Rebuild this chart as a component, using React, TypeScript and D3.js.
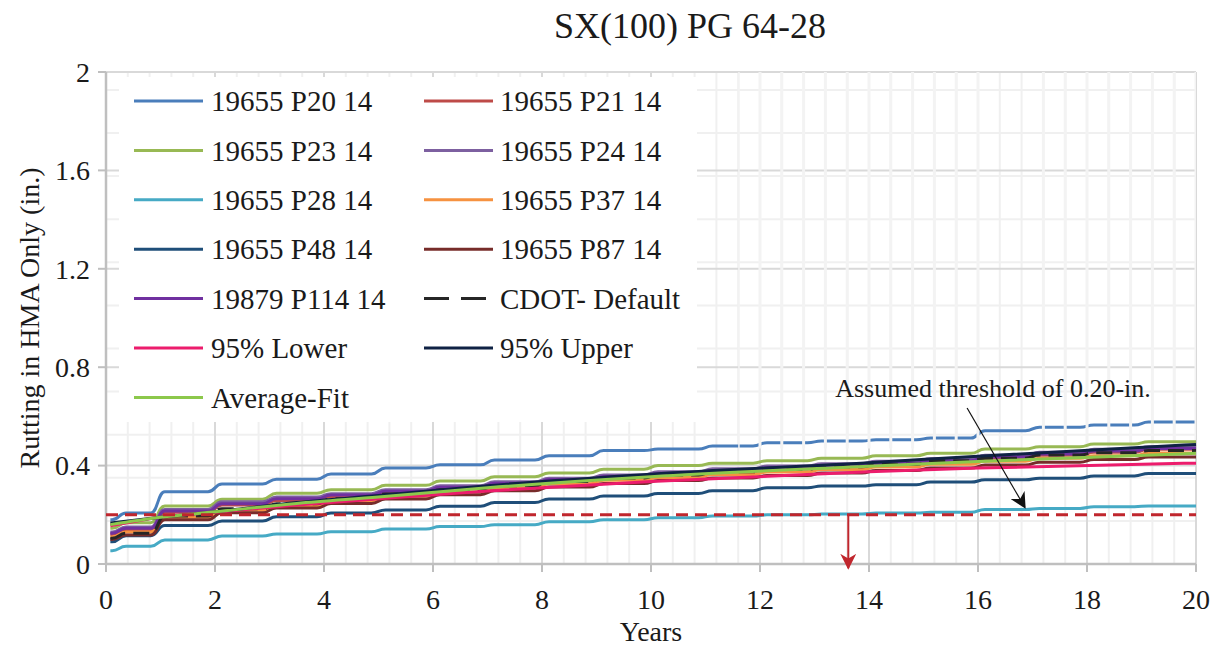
import React from 'react';
import * as d3 from 'd3';

// x positions of plateau points for the stepped (measured) series: start point + middle of each year
const stepYears = [0.08, 0.4, 1.5, 2.5, 3.5, 4.5, 5.5, 6.5, 7.5, 8.5, 9.5, 10.5, 11.5, 12.5, 13.5, 14.5, 15.5, 16.5, 17.5, 18.5, 19.5];
// x positions for the fitted (smooth) series
const fitYears = [0.08, 1, 2, 3.5, 5, 7, 10, 14, 16, 20];

const p20 = [0.18, 0.207, 0.294, 0.325, 0.345, 0.366, 0.39, 0.403, 0.423, 0.44, 0.461, 0.467, 0.48, 0.493, 0.5, 0.505, 0.512, 0.542, 0.556, 0.565, 0.577];
const p21 = [0.12, 0.14, 0.21, 0.24, 0.258, 0.273, 0.29, 0.306, 0.322, 0.337, 0.35, 0.362, 0.374, 0.385, 0.394, 0.404, 0.414, 0.43, 0.442, 0.454, 0.466];
const p23 = [0.145, 0.168, 0.236, 0.263, 0.288, 0.302, 0.32, 0.337, 0.355, 0.37, 0.385, 0.4, 0.41, 0.42, 0.43, 0.44, 0.45, 0.467, 0.477, 0.488, 0.497];
const p24 = [0.13, 0.15, 0.222, 0.253, 0.272, 0.286, 0.302, 0.318, 0.334, 0.349, 0.362, 0.375, 0.387, 0.398, 0.408, 0.418, 0.428, 0.442, 0.454, 0.466, 0.477];
const p28 = [0.054, 0.072, 0.098, 0.114, 0.122, 0.131, 0.142, 0.152, 0.16, 0.172, 0.18, 0.188, 0.195, 0.2, 0.203, 0.207, 0.21, 0.222, 0.226, 0.233, 0.236];
const p37 = [0.11, 0.13, 0.19, 0.218, 0.238, 0.256, 0.275, 0.293, 0.31, 0.326, 0.34, 0.352, 0.364, 0.374, 0.384, 0.394, 0.405, 0.418, 0.43, 0.44, 0.451];
const p48 = [0.09, 0.115, 0.156, 0.175, 0.192, 0.207, 0.22, 0.235, 0.25, 0.264, 0.276, 0.287, 0.298, 0.31, 0.317, 0.322, 0.333, 0.342, 0.349, 0.358, 0.368];
const p87 = [0.1, 0.118, 0.18, 0.208, 0.228, 0.246, 0.264, 0.282, 0.298, 0.313, 0.327, 0.339, 0.35, 0.36, 0.37, 0.38, 0.39, 0.402, 0.414, 0.425, 0.435];
const p114 = [0.125, 0.145, 0.215, 0.245, 0.265, 0.28, 0.296, 0.312, 0.328, 0.343, 0.356, 0.368, 0.38, 0.391, 0.4, 0.41, 0.42, 0.435, 0.447, 0.459, 0.47];
const cdot = [0.105, 0.125, 0.195, 0.225, 0.245, 0.265, 0.285, 0.302, 0.318, 0.335, 0.35, 0.362, 0.375, 0.385, 0.395, 0.405, 0.42, 0.43, 0.443, 0.452, 0.461];
const lower95 = [0.155, 0.19, 0.21, 0.24, 0.265, 0.297, 0.335, 0.375, 0.39, 0.41];
const upper95 = [0.167, 0.19, 0.212, 0.25, 0.278, 0.318, 0.365, 0.412, 0.438, 0.486];
const avgFit = [0.16, 0.19, 0.212, 0.246, 0.272, 0.31, 0.355, 0.397, 0.417, 0.45];

const threshold = 0.2;
const thresholdYear = 13.62;
const xTicks = [0, 2, 4, 6, 8, 10, 12, 14, 16, 18, 20];
const yTicks = [0, 0.4, 0.8, 1.2, 1.6, 2];
const yTickLabels = ['0', '0.4', '0.8', '1.2', '1.6', '2'];

const chartTitle = 'SX(100) PG 64-28';
const xTitle = 'Years';
const yTitle = 'Rutting in HMA Only (in.)';
const noteText = 'Assumed threshold of 0.20-in.';

type Series = { name: string; x: number[]; y: number[]; kind: 'step' | 'fit'; color: string; dash?: string };

const series: Series[] = [
  { name: '19655 P20 14', x: stepYears, y: p20, kind: 'step', color: '#4a7ebb' },
  { name: '19655 P21 14', x: stepYears, y: p21, kind: 'step', color: '#be4b48' },
  { name: '19655 P23 14', x: stepYears, y: p23, kind: 'step', color: '#98b954' },
  { name: '19655 P24 14', x: stepYears, y: p24, kind: 'step', color: '#7d60a0' },
  { name: '19655 P28 14', x: stepYears, y: p28, kind: 'step', color: '#46aac5' },
  { name: '19655 P37 14', x: stepYears, y: p37, kind: 'step', color: '#f69240' },
  { name: '19655 P48 14', x: stepYears, y: p48, kind: 'step', color: '#1f4e79' },
  { name: '19655 P87 14', x: stepYears, y: p87, kind: 'step', color: '#772c2a' },
  { name: '19879 P114 14', x: stepYears, y: p114, kind: 'step', color: '#7030a0' },
  { name: 'CDOT- Default', x: stepYears, y: cdot, kind: 'step', color: '#262626', dash: '16 8' },
  { name: '95% Lower', x: fitYears, y: lower95, kind: 'fit', color: '#ec1c6c' },
  { name: '95% Upper', x: fitYears, y: upper95, kind: 'fit', color: '#0f2244' },
  { name: 'Average-Fit', x: fitYears, y: avgFit, kind: 'fit', color: '#8cc84b' },
];

const W = 1218;
const H = 647;
const FONT = '"Liberation Serif", "Times New Roman", serif';
const TXT = '#1a1a1a';

const x = d3.scaleLinear().domain([0, 20]).range([106, 1196]);
const y = d3.scaleLinear().domain([0, 2]).range([564, 72]);

function smoothStepCurve(context: any) {
  let px = 0, py = 0, n = 0;
  return {
    areaStart() {}, areaEnd() {},
    lineStart() { n = 0; },
    lineEnd() {},
    point(xx: number, yy: number) {
      xx = +xx; yy = +yy;
      if (n === 0) context.moveTo(xx, yy);
      else {
        const xm = (px + xx) / 2;
        const w = Math.min(7, (xx - px) / 2);
        context.lineTo(xm - w, py);
        context.bezierCurveTo(xm, py, xm, yy, xm + w, yy);
        context.lineTo(xx, yy);
      }
      px = xx; py = yy; n++;
    },
  };
}

function pathFor(s: Series) {
  const pts: [number, number][] = s.x.map((xv, i) => [xv, s.y[i]]);
  if (s.kind === 'step') pts.push([20, s.y[s.y.length - 1]]);
  const gen = d3.line<[number, number]>().x(d => x(d[0])).y(d => y(d[1]));
  gen.curve(s.kind === 'step' ? (smoothStepCurve as any) : d3.curveMonotoneX);
  return gen(pts) || '';
}

export default function App() {
  const minorX = d3.range(0, 20.001, 0.4).filter(v => Math.abs(v / 2 - Math.round(v / 2)) > 1e-6);
  const majorX = xTicks;
  const minorY = d3.range(1, 12).map(k => k * 0.1752);
  const majorY = yTicks.slice(1);

  const legendX = [134, 424];
  const legendTextX = [211, 500];
  const legendY0 = 101;
  const legendDY = 49.4;

  const first = series[0];
  const rest = series.slice(1);

  return (
    <svg width={W} height={H} style={{ position: 'absolute', left: 0, top: 0, background: '#fff' }} fontFamily={FONT}>
      <defs>
        <clipPath id="bluegap">
          <rect x={x(11.6)} y={y(2)} width={x(16.05) - x(11.6)} height={y(0.47) - y(2)} />
          <rect x={x(17.1)} y={y(2)} width={x(20) - x(17.1)} height={y(0.47) - y(2)} />
        </clipPath>
        <marker id="blackHead" viewBox="0 0 10 10" refX="9" refY="5" markerWidth="16" markerHeight="16" markerUnits="userSpaceOnUse" orient="auto">
          <path d="M0,0 L10,5 L0,10 L3,5 Z" fill="#111" />
        </marker>
        <marker id="redHead" viewBox="0 0 10 10" refX="9" refY="5" markerWidth="16" markerHeight="16" markerUnits="userSpaceOnUse" orient="auto">
          <path d="M0,0 L10,5 L0,10 L3,5 Z" fill="#c0262d" />
        </marker>
        <filter id="shadow" x="-5%" y="-200%" width="110%" height="500%">
          <feGaussianBlur stdDeviation="2" />
        </filter>
      </defs>

      {/* minor grid */}
      {minorX.map(v => (
        <line key={'mx' + v} x1={x(v)} x2={x(v)} y1={y(2)} y2={y(0)} stroke="#f0f0f0" strokeWidth={2} />
      ))}
      {minorY.map(v => (
        <line key={'my' + v} x1={x(0)} x2={x(20)} y1={y(v)} y2={y(v)} stroke="#f0f0f0" strokeWidth={2} />
      ))}
      {/* major grid */}
      {majorX.map(v => (
        <line key={'Mx' + v} x1={x(v)} x2={x(v)} y1={y(2)} y2={y(0)} stroke="#d9d9d9" strokeWidth={2} />
      ))}
      {majorY.map(v => (
        <line key={'My' + v} x1={x(0)} x2={x(20)} y1={y(v)} y2={y(v)} stroke="#d9d9d9" strokeWidth={2} />
      ))}

      {/* axes */}
      <line x1={x(0)} x2={x(0)} y1={y(2)} y2={y(0)} stroke="#bfbfbf" strokeWidth={2.5} />
      <line x1={x(0)} x2={x(20)} y1={y(0)} y2={y(0)} stroke="#bfbfbf" strokeWidth={2.5} />
      {yTicks.map(v => (
        <line key={'yt' + v} x1={x(0) - 8} x2={x(0)} y1={y(v)} y2={y(v)} stroke="#bfbfbf" strokeWidth={2} />
      ))}
      {xTicks.map(v => (
        <line key={'xt' + v} x1={x(v)} x2={x(v)} y1={y(0)} y2={y(0) + 8} stroke="#bfbfbf" strokeWidth={2} />
      ))}

      {/* legend background */}
      <rect x={119} y={77} width={578} height={345} fill="#fff" />

      {/* series */}
      <path d={pathFor(first)} fill="none" stroke={first.color} strokeWidth={3} strokeLinejoin="round" />
      <g clipPath="url(#bluegap)">
        {minorX.concat(majorX).map(v => (
          <line key={'gap' + v} x1={x(v)} x2={x(v)} y1={y(2)} y2={y(0)} stroke="#f3f3f3" strokeWidth={3} />
        ))}
      </g>
      {rest.map(s => (
        <path key={s.name} d={pathFor(s)} fill="none" stroke={s.color} strokeWidth={3} strokeLinejoin="round" strokeDasharray={s.dash} />
      ))}

      {/* threshold */}
      <line x1={x(0)} x2={x(20)} y1={y(threshold) + 4} y2={y(threshold) + 4} stroke="#999" strokeOpacity={0.5} strokeWidth={3} filter="url(#shadow)" />
      <line x1={x(0)} x2={x(20)} y1={y(threshold)} y2={y(threshold)} stroke="#c0262d" strokeWidth={3} strokeDasharray="12 7" />
      <line x1={x(thresholdYear)} x2={x(thresholdYear)} y1={y(threshold)} y2={y(-0.017)} stroke="#c0262d" strokeWidth={2} markerEnd="url(#redHead)" />

      {/* annotation */}
      <line x1={x(15.8)} y1={y(0.634)} x2={x(16.86)} y2={y(0.23)} stroke="#111" strokeWidth={1.2} markerEnd="url(#blackHead)" />
      <text x={x(13.38)} y={y(0.679)} fontSize={26} fill={TXT}>{noteText}</text>

      {/* legend */}
      {series.map((s, i) => {
        const col = i % 2;
        const row = Math.floor(i / 2);
        const cy = legendY0 + row * legendDY;
        return (
          <g key={'lg' + s.name}>
            <line x1={legendX[col]} x2={legendX[col] + (s.dash ? 62 : 69)} y1={cy} y2={cy} stroke={s.color} strokeWidth={3} strokeDasharray={s.dash ? '25 12' : undefined} />
            <text x={legendTextX[col]} y={cy} dy="0.35em" fontSize={29} fill={TXT}>{s.name}</text>
          </g>
        );
      })}

      {/* tick labels */}
      {yTicks.map((v, i) => (
        <text key={'yl' + v} x={x(0) - 16} y={y(v)} dy="0.35em" textAnchor="end" fontSize={28} fill={TXT}>{yTickLabels[i]}</text>
      ))}
      {xTicks.map(v => (
        <text key={'xl' + v} x={x(v)} y={609} textAnchor="middle" fontSize={28} fill={TXT}>{v}</text>
      ))}

      {/* titles */}
      <text x={690} y={38} textAnchor="middle" fontSize={36} fill={TXT}>{chartTitle}</text>
      <text x={x(10)} y={641} textAnchor="middle" fontSize={28} fill={TXT}>{xTitle}</text>
      <text transform={`translate(29, ${(y(0) + y(2)) / 2}) rotate(-90)`} dy="0.35em" textAnchor="middle" fontSize={28} fill={TXT}>{yTitle}</text>
    </svg>
  );
}
